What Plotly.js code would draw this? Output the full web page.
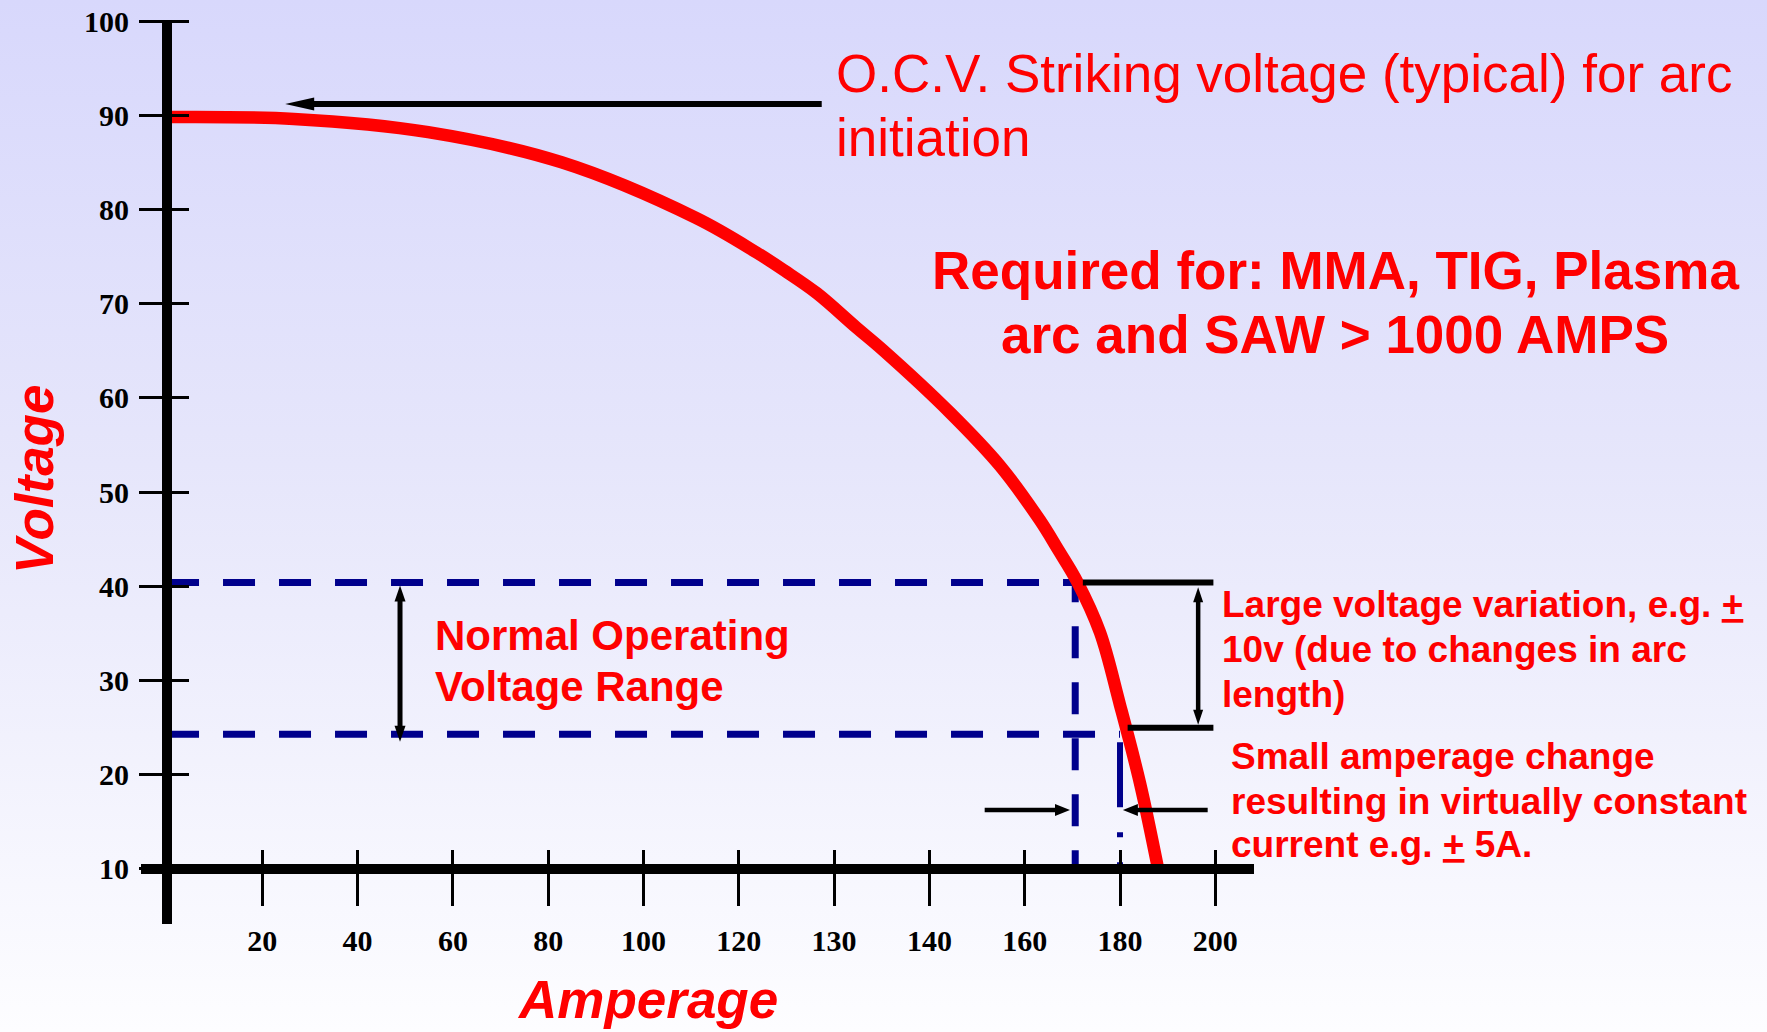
<!DOCTYPE html>
<html><head><meta charset="utf-8">
<script src="https://cdn.plot.ly/plotly-3.0.1.min.js"></script>
<style>
html,body{margin:0;padding:0;width:1767px;height:1032px;overflow:hidden;
background:linear-gradient(to bottom,#d8d8fc 0%,#e6e6fb 45%,#fdfdff 100%);}
#chart{width:1767px;height:1032px;}
</style></head><body><div id="chart"></div>
<script>
// Amperage axis is evenly spaced by slot: slot 1 = 20 A ... slot 11 = 200 A
const ampTickPos  = [1, 2, 3, 4, 5, 6, 7, 8, 9, 10, 11];
const ampTickText = ['20','40','60','80','100','120','130','140','160','180','200'];
const voltTicks   = [10, 20, 30, 40, 50, 60, 70, 80, 90, 100];

// Drooping (constant current) characteristic: slot position, voltage
const curvePos  = [0, 1.33, 2.74, 4.14, 5.55, 6.19, 6.48, 6.82, 7.23, 7.51, 8.22, 8.74, 9.16, 9.35, 9.55, 9.79, 10.0, 10.21, 10.40];
const curveVolt = [89.8, 89.6, 88.2, 85.0, 79.1, 75.4, 73.5, 71.1, 67.5, 65.1, 58.4, 52.8, 47.0, 43.9, 40.5, 35.1, 27.4, 19.1, 10.0];

// Normal operating voltage range and the matching currents (~170 A, ~180 A)
const opVolt   = [40.4, 24.3];
const opAmpPos = [9.53, 10.0];
const baseVolt = 10;

// ---- layout geometry ----
const W = 1767, H = 1032;
const L = 141, R = 513, T = 21, B = 108;
const xRange = [-0.273, 11.406];
const yRange = [4.16, 100];
const plotW = W - L - R, plotH = H - T - B;
const pxX = plotW / (xRange[1] - xRange[0]);
const pxY = plotH / (yRange[1] - yRange[0]);
const x2px = v => L + (v - xRange[0]) * pxX;
const y2px = v => T + (yRange[1] - v) * pxY;
const paperX = p => (p - L) / plotW;
const paperY = p => (H - B - p) / plotH;

const RED = '#ff0000', NAVY = '#00008c', BLK = '#000000';

function head(tip, ux, uy, len, half, color) {
  const px = -uy, py = ux;
  const bx = ux * len, by = uy * len;
  const f = n => n.toFixed(2);
  return {type:'path', xref:'x', yref:'y', xsizemode:'pixel', ysizemode:'pixel',
    xanchor: tip[0], yanchor: tip[1],
    path: `M0,0 L${f(bx + px*half)},${f(by + py*half)} L${f(bx - px*half)},${f(by - py*half)} Z`,
    fillcolor: color, line:{width:0}};
}
function arrow(tip, tail, width, len, half, both) {
  const dx = (tail[0]-tip[0])*pxX, dy = (tail[1]-tip[1])*pxY;
  const d = Math.hypot(dx, dy), ux = dx/d, uy = dy/d;
  const ins = len*0.7;
  const s = [];
  const a = [tip[0] + ux*ins/pxX, tip[1] + uy*ins/pxY];
  const b = both ? [tail[0] - ux*ins/pxX, tail[1] - uy*ins/pxY] : tail;
  s.push({type:'line', xref:'x', yref:'y', x0:b[0], y0:b[1], x1:a[0], y1:a[1], line:{color:BLK, width:width}});
  s.push(head(tip, ux, uy, len, half, BLK));
  if (both) s.push(head(tail, -ux, -uy, len, half, BLK));
  return s;
}

const traces = [
  {x:[0, opAmpPos[0], opAmpPos[0]], y:[opVolt[0], opVolt[0], baseVolt], mode:'lines',
   line:{color:NAVY, width:7, dash:'32px,24px'}, hoverinfo:'skip'},
  {x:[0, opAmpPos[1]], y:[opVolt[1], opVolt[1]], mode:'lines',
   line:{color:NAVY, width:7, dash:'32px,24px'}, hoverinfo:'skip'},
  {x:[opAmpPos[1], opAmpPos[1]], y:[opVolt[1], baseVolt], mode:'lines',
   line:{color:NAVY, width:6, dash:'0px,8px,65px,25px,5px,25px,5px,25px'}, hoverinfo:'skip'},
  {x:curvePos, y:curveVolt, mode:'lines', line:{color:RED, width:12.5, shape:'spline', smoothing:1}, hoverinfo:'skip'}
];

const shapes = [
  // horizontal axis line at 10 V
  {type:'line', xref:'paper', yref:'y', x0:0, x1:1, y0:baseVolt, y1:baseVolt, line:{color:BLK, width:10}},
  // bracket lines at the right
  {type:'line', xref:'x', yref:'y', x0:9.61, x1:10.98, y0:opVolt[0], y1:opVolt[0], line:{color:BLK, width:6}},
  {type:'line', xref:'x', yref:'y', x0:10.08, x1:10.98, y0:25.0, y1:25.0, line:{color:BLK, width:6}},
  ...arrow([1.24, 91.2], [6.87, 91.2], 6, 29, 6.5, false),
  ...arrow([2.445, 40.1], [2.445, 23.5], 5, 16, 5.5, true),
  ...arrow([10.82, 39.9], [10.82, 25.3], 4.5, 15, 5, true),
  ...arrow([9.475, 16.26], [8.58, 16.26], 4.5, 15, 6, false),
  ...arrow([10.03, 16.26], [10.92, 16.26], 4.5, 15, 6, false)
];

const sans = 'Liberation Sans, Arial, sans-serif';
function ann(text, xp, yp, size, opts) {
  return Object.assign({text:text, xref:'paper', yref:'paper', x:paperX(xp), y:paperY(yp),
    xanchor:'left', yanchor:'middle', showarrow:false,
    font:{family:sans, size:size, color:RED, weight:'bold'}}, opts || {});
}
const annotations = [
  ann('O.C.V. Striking voltage (typical) for arc', 834, 74, 53, {font:{family:sans, size:53, color:RED}}),
  ann('initiation', 834, 138, 53, {font:{family:sans, size:53, color:RED}}),
  ann('Required for: MMA, TIG, Plasma', 1335, 270, 53, {xanchor:'center'}),
  ann('arc and SAW &gt; 1000 AMPS', 1335, 334, 53, {xanchor:'center'}),
  ann('Normal Operating', 433, 635, 42),
  ann('Voltage Range', 433, 686, 42),
  ann('Large voltage variation, e.g. <u>+</u>', 1220, 604, 37),
  ann('10v (due to changes in arc', 1220, 650, 37),
  ann('length)', 1220, 694, 37),
  ann('Small amperage change', 1229, 756, 37),
  ann('resulting in virtually constant', 1229, 801, 37),
  ann('current e.g. <u>+</u> 5A.', 1229, 844, 37),
  ann('Voltage', 34, 480, 53, {xanchor:'center', textangle:-90, font:{family:sans, size:53, color:RED, weight:'bold', style:'italic'}}),
  ann('Amperage', 647, 999, 53, {xanchor:'center', font:{family:sans, size:53, color:RED, weight:'bold', style:'italic'}})
];

const tickFont = {family:'Liberation Serif, Times New Roman, serif', size:30, color:BLK, weight:'bold'};
const layout = {
  width:W, height:H, margin:{l:L, r:R, t:T, b:B, pad:0},
  paper_bgcolor:'rgba(0,0,0,0)', plot_bgcolor:'rgba(0,0,0,0)',
  showlegend:false, hovermode:false,
  xaxis:{range:xRange, anchor:'free', position:paperY(y2px(baseVolt) - 19.5),
    showgrid:false, showline:false, zeroline:true, zerolinecolor:BLK, zerolinewidth:10,
    zerolinelayer:'above traces', layer:'above traces',
    tickmode:'array', tickvals:ampTickPos, ticktext:ampTickText,
    ticks:'outside', ticklen:56, tickwidth:3, tickcolor:BLK, tickfont:tickFont,
    ticklabelstandoff:9, fixedrange:true},
  yaxis:{range:yRange, anchor:'free', position:paperX(x2px(0) + 22),
    showgrid:false, showline:false, zeroline:false, layer:'above traces',
    tickmode:'array', tickvals:voltTicks, ticktext:voltTicks.map(String),
    ticks:'outside', ticklen:50, tickwidth:3, tickcolor:BLK, tickfont:tickFont,
    ticklabelstandoff:4, fixedrange:true},
  shapes:shapes, annotations:annotations
};
Plotly.newPlot('chart', traces, layout, {staticPlot:true, displayModeBar:false});
</script></body></html>
